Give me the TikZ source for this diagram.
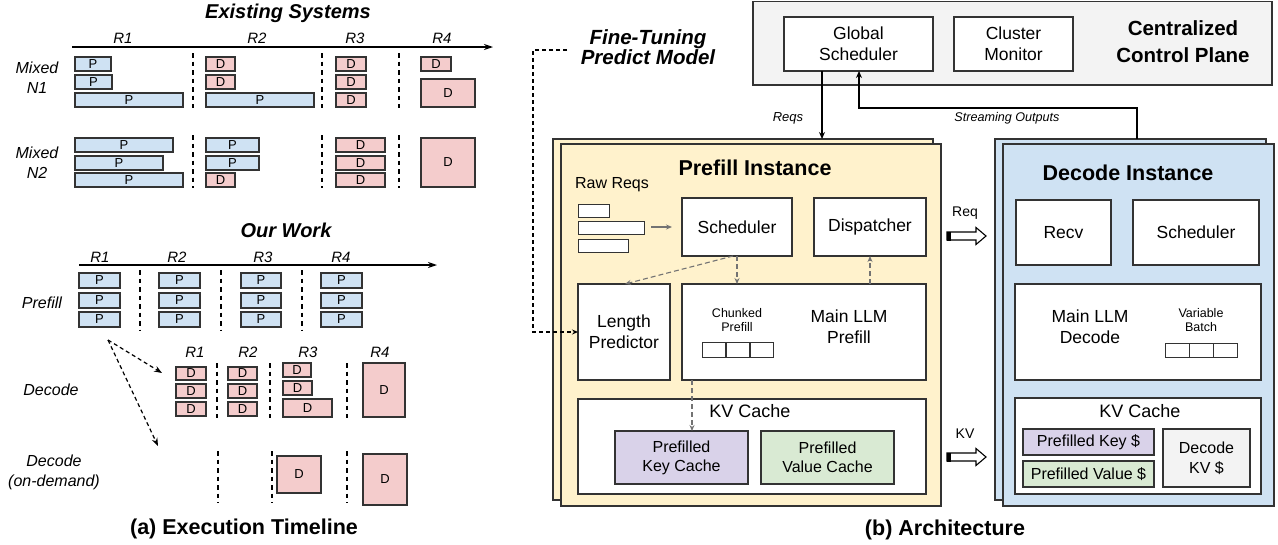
\documentclass[tikz,border=0pt]{standalone}
\usepackage{fontspec}
\setmainfont{Liberation Sans}
\usetikzlibrary{arrows.meta,positioning}
\definecolor{pblue}{HTML}{CFE2F3}
\definecolor{dpink}{HTML}{F4CCCC}
\definecolor{pyellow}{HTML}{FFF2CC}
\definecolor{lgray}{HTML}{F3F3F3}
\definecolor{kpurple}{HTML}{D9D2E9}
\definecolor{vgreen}{HTML}{D9EAD3}
\definecolor{edgecol}{HTML}{333333}
\newcommand\bx[7]{\node[#1,minimum width={#5-#3},minimum height={#6-#4}] (#2) at ({(#3+#5)/2},{(#4+#6)/2}) {#7};}
\tikzset{
  basebox/.style={draw=edgecol,line width=1.2pt,inner sep=0pt,outer sep=0pt,anchor=center},
  pbx/.style={basebox,fill=pblue,font=\fontsize{13}{14}\selectfont},
  dbx/.style={basebox,fill=dpink,font=\fontsize{13}{14}\selectfont},
  wbx/.style={basebox,fill=white,align=center,font=\fontsize{17.5}{21}\selectfont},
  rlab/.style={font=\fontsize{15}{17}\selectfont\itshape},
  rowlab/.style={align=center,font=\fontsize{16}{20}\selectfont\itshape},
  ttl/.style={font=\fontsize{20}{24}\selectfont\bfseries\itshape,align=center},
  captxt/.style={font=\fontsize{21.5}{26}\selectfont\bfseries},
  vsep/.style={draw=black,line width=1.2pt,dash pattern=on 4.5pt off 4pt},
  axisline/.style={draw=black,line width=1.2pt,-{Stealth[length=9pt,width=6pt]}},
  smalltxt/.style={font=\fontsize{12.5}{14}\selectfont,align=center},
  gdash/.style={draw=black!55,line width=1.1pt,dash pattern=on 5pt off 3pt,-{Stealth[length=6pt,width=5pt]}},
}
\begin{document}
\begin{tikzpicture}[x=1pt,y=-1pt]
\useasboundingbox (0,0) rectangle (1278,544);
% ================= Left: Existing Systems =================
\node[ttl] (t1) at (288,13) {Existing Systems};
\coordinate (ax1a) at (72,47); \coordinate (ax1b) at (493,47);
\draw[axisline] (ax1a) -- (ax1b);
\node[rlab] (r1a) at (123,38) {R1};
\node[rlab] (r2a) at (257,38) {R2};
\node[rlab] (r3a) at (355,38) {R3};
\node[rlab] (r4a) at (442,38) {R4};
\node[rowlab] (mn1) at (37,78) {Mixed\\N1};
\node[rowlab] (mn2) at (37,163) {Mixed\\N2};
% N1
\bx{pbx}{a1}{75}{57}{111}{71}{P}
\bx{pbx}{a2}{75}{75}{112}{89}{P}
\bx{pbx}{a3}{75}{93}{183}{107}{P}
\bx{dbx}{a4}{206}{57}{235}{71}{D}
\bx{dbx}{a5}{206}{75}{235}{89}{D}
\bx{pbx}{a6}{206}{93}{314}{107}{P}
\bx{dbx}{a7}{336}{57}{366}{71}{D}
\bx{dbx}{a8}{336}{75}{366}{89}{D}
\bx{dbx}{a9}{336}{93}{366}{107}{D}
\bx{dbx}{a10}{421}{57}{451}{71}{D}
\bx{dbx}{a11}{421}{79}{475}{107}{D}
\foreach \x in {193,322,399} \draw[vsep] (\x,53) -- (\x,108);
% N2
\bx{pbx}{b1}{75}{138}{173}{152}{P}
\bx{pbx}{b2}{75}{156}{163}{170}{P}
\bx{pbx}{b3}{75}{173}{183}{187}{P}
\bx{pbx}{b4}{206}{138}{259}{152}{P}
\bx{pbx}{b5}{206}{156}{259}{170}{P}
\bx{dbx}{b6}{206}{173}{235}{187}{D}
\bx{dbx}{b7}{336}{138}{385}{152}{D}
\bx{dbx}{b8}{336}{156}{385}{170}{D}
\bx{dbx}{b9}{336}{173}{385}{187}{D}
\bx{dbx}{b10}{421}{138}{475}{187}{D}
\foreach \x in {193,322,399} \draw[vsep] (\x,135) -- (\x,188);
% ================= Left: Our Work =================
\node[ttl] (t2) at (286,230) {Our Work};
\coordinate (ax2a) at (79,265); \coordinate (ax2b) at (437,265);
\draw[axisline] (ax2a) -- (ax2b);
\node[rlab] (r1b) at (100,257) {R1};
\node[rlab] (r2b) at (177,257) {R2};
\node[rlab] (r3b) at (263,257) {R3};
\node[rlab] (r4b) at (341,257) {R4};
\node[rowlab] (plab) at (42,303) {Prefill};
\foreach \xa/\xb/\k in {79/120/1,159/200/2,241/281/3,321/362/4}{
  \bx{pbx}{p\k a}{\xa}{273}{\xb}{288}{P}
  \bx{pbx}{p\k b}{\xa}{293}{\xb}{308}{P}
  \bx{pbx}{p\k c}{\xa}{312}{\xb}{327}{P}
}
\foreach \x in {140,221,302} \draw[vsep] (\x,270) -- (\x,330);
% dashed arrows from prefill to decode rows
\coordinate (dsrc) at (108,340);
\coordinate (dt1) at (162,373);
\coordinate (dt2) at (158,446);
\draw[line width=1.2pt,dash pattern=on 4pt off 3pt,-{Stealth[length=8pt,width=6pt]}] (dsrc) -- (dt1);
\draw[line width=1.2pt,dash pattern=on 4pt off 3pt,-{Stealth[length=8pt,width=6pt]}] (dsrc) -- (dt2);
% Decode row
\node[rlab] (r1c) at (195,352) {R1};
\node[rlab] (r2c) at (248,352) {R2};
\node[rlab] (r3c) at (308,352) {R3};
\node[rlab] (r4c) at (380,352) {R4};
\node[rowlab] (dlab) at (51,390) {Decode};
\bx{dbx}{c1}{176}{367}{206}{380}{D}
\bx{dbx}{c2}{176}{384}{206}{398}{D}
\bx{dbx}{c3}{176}{402}{206}{416}{D}
\bx{dbx}{c4}{228}{367}{257}{380}{D}
\bx{dbx}{c5}{228}{384}{257}{398}{D}
\bx{dbx}{c6}{228}{402}{257}{416}{D}
\bx{dbx}{c7}{283}{363}{311}{377}{D}
\bx{dbx}{c8}{283}{381}{312}{395}{D}
\bx{dbx}{c9}{283}{399}{332}{417}{D}
\bx{dbx}{c10}{363}{363}{405}{417}{D}
\foreach \x in {217,270,347} \draw[vsep] (\x,363) -- (\x,418);
% Decode on-demand row
\node[rowlab] (olab) at (54,472) {Decode\\(on-demand)};
\foreach \x in {218,272,347} \draw[vsep] (\x,451) -- (\x,503);
\bx{dbx}{e1}{277}{456}{321}{493}{D}
\bx{dbx}{e2}{363}{454}{407}{505}{D}
\node[captxt] (capa) at (244,529) {(a) Execution Timeline};
% ================= Right: Architecture =================
% Control plane
\bx{basebox,fill=lgray}{cp}{753}{1.5}{1272}{85}{}
\bx{wbx}{gs}{784}{17}{933}{71}{Global\\Scheduler}
\bx{wbx}{cm}{954}{17}{1073}{71}{Cluster\\Monitor}
\node[font=\fontsize{20.5}{27}\selectfont\bfseries,align=center] (cptxt) at (1183,42) {Centralized\\Control Plane};
% Fine-tuning
\node[ttl,font=\fontsize{20.5}{20}\selectfont\bfseries\itshape] (ft) at (648,47) {Fine-Tuning\\Predict Model};
% Prefill instance
\bx{basebox,fill=pyellow}{pib}{553}{139}{933}{500}{}
\bx{basebox,fill=pyellow}{pif}{561}{144}{941}{506}{}
\node[font=\fontsize{21.5}{26}\selectfont\bfseries] (pititle) at (755,168) {Prefill Instance};
\node[font=\fontsize{16}{19}\selectfont] (rawreqs) at (612,185) {Raw Reqs};
\bx{basebox,line width=1pt,fill=white}{rq1}{578}{204}{609}{217}{}
\bx{basebox,line width=1pt,fill=white}{rq2}{578}{221}{644}{234}{}
\bx{basebox,line width=1pt,fill=white}{rq3}{578}{239}{628}{252}{}
\bx{wbx}{psch}{682}{198}{792}{256}{Scheduler}
\coordinate (rqa) at (651,227);
\draw[draw=black!55,line width=1.1pt,-{Stealth[length=6pt,width=5pt]}] (rqa) -- (672,227);
\bx{wbx}{disp}{814}{198}{926}{256}{Dispatcher}
\bx{wbx}{lp}{578}{284}{670}{380}{Length\\Predictor}
\bx{wbx}{mlp}{682}{284}{926}{380}{}
\node[smalltxt] (chk) at (737,320) {Chunked\\Prefill};
\node[font=\fontsize{17.5}{21}\selectfont,align=center] (mlptxt) at (849,327) {Main LLM\\Prefill};
\bx{basebox,line width=1pt,fill=white}{sq1}{702}{342}{725}{357}{}
\bx{basebox,line width=1pt,fill=white}{sq2}{726}{342}{749}{357}{}
\bx{basebox,line width=1pt,fill=white}{sq3}{750}{342}{773}{357}{}
\bx{basebox,fill=white}{pkv}{578}{399}{926}{494}{}
\node[font=\fontsize{18}{21}\selectfont] (pkvt) at (750,411) {KV Cache};
\bx{basebox,fill=kpurple,align=center,font=\fontsize{16}{19}\selectfont}{pkc}{615}{431}{748}{484}{Prefilled\\Key Cache}
\bx{basebox,fill=vgreen,align=center,font=\fontsize{16}{19}\selectfont}{pvc}{761}{431}{894}{484}{Prefilled\\Value Cache}
% gray dashed internal arrows
\draw[gdash] (psch.south -| 733,0) -- (lp.north -| 625,0);
\draw[gdash] (psch.south -| 737,0) -- (mlp.north -| 737,0);
\draw[gdash] (mlp.north -| 870,0) -- (disp.south -| 870,0);
\draw[gdash] (mlp.south -| 692,0) -- (pkc.north -| 692,0);
% Fine-tuning dashed connector
\coordinate (ftl) at (567,50);
\draw[line width=1.2pt,dash pattern=on 4pt off 3pt,-{Stealth[length=6pt,width=5pt]}] (ftl) -- (533,50) -- (533,332) -- (lp.west |- 0,332);
% Decode instance
\bx{basebox,fill=pblue}{dib}{995}{139}{1266}{500}{}
\bx{basebox,fill=pblue}{dif}{1003}{144}{1274}{506}{}
\node[font=\fontsize{21.5}{26}\selectfont\bfseries] (dititle) at (1128,173) {Decode Instance};
\bx{wbx}{recv}{1016}{200}{1111}{265}{Recv}
\bx{wbx}{dsch}{1133}{200}{1259}{265}{Scheduler}
\bx{wbx}{mld}{1015}{284}{1261}{380}{}
\node[font=\fontsize{17.5}{21}\selectfont,align=center] (mldt) at (1090,327) {Main LLM\\Decode};
\node[smalltxt] (vb) at (1201,320) {Variable\\Batch};
\bx{basebox,line width=1pt,fill=white}{dq1}{1165}{343}{1189}{357}{}
\bx{basebox,line width=1pt,fill=white}{dq2}{1189}{343}{1213}{357}{}
\bx{basebox,line width=1pt,fill=white}{dq3}{1213}{343}{1237}{357}{}
\bx{basebox,fill=white}{dkv}{1015}{398}{1261}{494}{}
\node[font=\fontsize{18}{21}\selectfont] (dkvt) at (1140,411) {KV Cache};
\bx{basebox,fill=kpurple,font=\fontsize{16}{19}\selectfont}{dpk}{1023}{429}{1154}{455}{Prefilled Key \$}
\bx{basebox,fill=vgreen,font=\fontsize{16}{19}\selectfont}{dpv}{1023}{461}{1154}{487}{Prefilled Value \$}
\bx{basebox,fill=lgray,align=center,font=\fontsize{16}{20}\selectfont}{dkvs}{1163}{429}{1250}{487}{Decode\\KV \$}
% control plane connectors
\draw[line width=1.2pt,-{Stealth[length=7pt,width=6pt]}] (gs.south -| 822,0) -- (pib.north -| 822,0);
\node[font=\fontsize{13}{14}\selectfont\itshape] (reqs) at (788,118) {Reqs};
\draw[line width=1.2pt,-{Stealth[length=7pt,width=6pt]}] (dib.north -| 1137,0) -- (1137,108) -- (859,108) -- (gs.south -| 859,0);
\node[font=\fontsize{12.6}{14}\selectfont\itshape] (so) at (1007,118) {Streaming Outputs};
% block arrows
\foreach \yy/\lab/\nm in {236/Req/ba1,457/KV/ba2}{
  \draw[line width=1.1pt,fill=white,line join=miter] (947,\yy-4) -- (976,\yy-4) -- (976,\yy-8.5) -- (986,\yy) -- (976,\yy+8.5) -- (976,\yy+4) -- (947,\yy+4) -- cycle;
  \fill[black] (947,\yy-4.5) rectangle (951,\yy+4.5);
  \node[font=\fontsize{14}{16}\selectfont] (\nm) at (965,\yy-23) {\lab};
}
\node[captxt] (capb) at (945,530) {(b) Architecture};
\end{tikzpicture}
\end{document}
